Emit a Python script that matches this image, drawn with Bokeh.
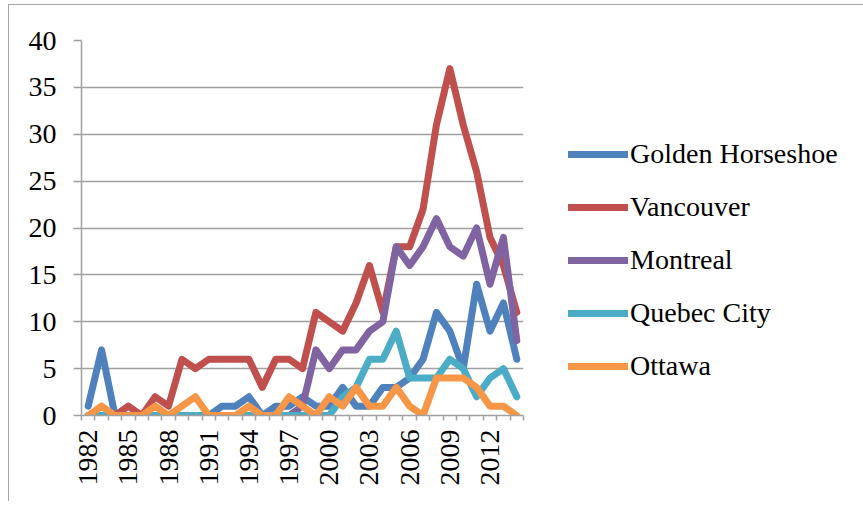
from math import pi
from bokeh.plotting import figure
from bokeh.models import FixedTicker, Legend, LegendItem
from bokeh.embed import file_html
from bokeh.resources import INLINE

years = [1982, 1983, 1984, 1985, 1986, 1987, 1988, 1989, 1990, 1991, 1992,
         1993, 1994, 1995, 1996, 1997, 1998, 1999, 2000, 2001, 2002, 2003,
         2004, 2005, 2006, 2007, 2008, 2009, 2010, 2011, 2012, 2013, 2014]
golden_horseshoe = [1, 7, 0, 0, 0, 0, 0, 0, 0, 0, 1, 1, 2, 0, 1, 1, 2, 1, 1, 3, 1,
                    1, 3, 3, 4, 6, 11, 9, 5, 14, 9, 12, 6]
vancouver = [0, 0, 0, 1, 0, 2, 1, 6, 5, 6, 6, 6, 6, 3, 6, 6, 5, 11, 10, 9, 12,
             16, 11, 18, 18, 22, 31, 37, 31, 26, 19, 16, 11]
montreal = [0, 0, 0, 0, 0, 0, 0, 0, 0, 0, 0, 0, 0, 0, 0, 0, 1, 7, 5, 7, 7,
            9, 10, 18, 16, 18, 21, 18, 17, 20, 14, 19, 8]
quebec_city = [0, 0, 0, 0, 0, 0, 0, 0, 0, 0, 0, 0, 0, 0, 0, 0, 0, 0, 0, 2, 3,
               6, 6, 9, 4, 4, 4, 6, 5, 2, 4, 5, 2]
ottawa = [0, 1, 0, 0, 0, 1, 0, 1, 2, 0, 0, 0, 1, 0, 0, 2, 1, 0, 2, 1, 3,
          1, 1, 3, 1, 0, 4, 4, 4, 3, 1, 1, 0]

series_names = ["Golden Horseshoe", "Vancouver", "Montreal", "Quebec City", "Ottawa"]
series_values = [golden_horseshoe, vancouver, montreal, quebec_city, ottawa]
colors = ["#4F81BD", "#C0504D", "#8064A2", "#4BACC6", "#F79646"]
y_ticks = [0, 5, 10, 15, 20, 25, 30, 35, 40]

n = len(years)
xs = [yr - years[0] for yr in years]

p = figure(frame_width=442, frame_height=375, output_backend="svg",
           toolbar_location=None,
           x_range=(-0.5, n - 0.5), y_range=(0, 40),
           min_border_left=72, min_border_right=0, min_border_top=35,
           min_border_bottom=86)
p.outline_line_color = None
p.background_fill_color = "white"
p.border_fill_color = "white"
p.styles = {"margin-left": "8px", "margin-top": "4px",
            "border-left": "1px solid #a6a6a6", "border-top": "1px solid #a6a6a6"}

font = "Liberation Serif"
grey = "#a0a0a0"

# y axis
p.yaxis.ticker = FixedTicker(ticks=y_ticks)
p.yaxis.axis_line_color = grey
p.yaxis.axis_line_width = 1.5
p.yaxis.major_tick_line_color = grey
p.yaxis.major_tick_line_width = 1.5
p.yaxis.major_tick_out = 8
p.yaxis.major_tick_in = 0
p.yaxis.minor_tick_line_color = None
p.yaxis.major_label_text_font = font
p.yaxis.major_label_text_font_size = "28px"
p.yaxis.major_label_text_color = "black"
p.yaxis.major_label_standoff = 17

# x axis
label_pos = xs[::3]
p.xaxis.ticker = FixedTicker(ticks=label_pos,
                             minor_ticks=[i - 0.5 for i in range(n + 1)])
p.xaxis.major_label_overrides = {x: str(years[x]) for x in label_pos}
p.xaxis.major_label_orientation = pi / 2
p.xaxis.axis_line_color = grey
p.xaxis.axis_line_width = 1.5
p.xaxis.major_tick_line_color = None
p.xaxis.minor_tick_line_color = grey
p.xaxis.minor_tick_line_width = 1.5
p.xaxis.minor_tick_out = 5
p.xaxis.minor_tick_in = 0
p.xaxis.major_label_text_font = font
p.xaxis.major_label_text_font_size = "28px"
p.xaxis.major_label_text_color = "black"
p.xaxis.major_label_standoff = 8

p.xgrid.visible = False
p.ygrid.ticker = FixedTicker(ticks=y_ticks)
p.ygrid.grid_line_color = grey
p.ygrid.grid_line_width = 1.5

items = []
for name, vals, c in zip(series_names, series_values, colors):
    r = p.line(xs, vals, line_color=c, line_width=7,
               line_join="round", line_cap="round")
    items.append(LegendItem(label=name, renderers=[r]))

legend = Legend(items=items, location=(45, 33))
legend.background_fill_alpha = 0
legend.border_line_color = None
legend.label_text_font = font
legend.label_text_font_size = "28px"
legend.label_text_color = "black"
legend.glyph_width = 60
legend.glyph_height = 20
legend.label_standoff = 2
legend.spacing = 21
legend.padding = 0
legend.margin = 0
p.add_layout(legend, "right")

open("out.html", "w").write(file_html(p, INLINE))
